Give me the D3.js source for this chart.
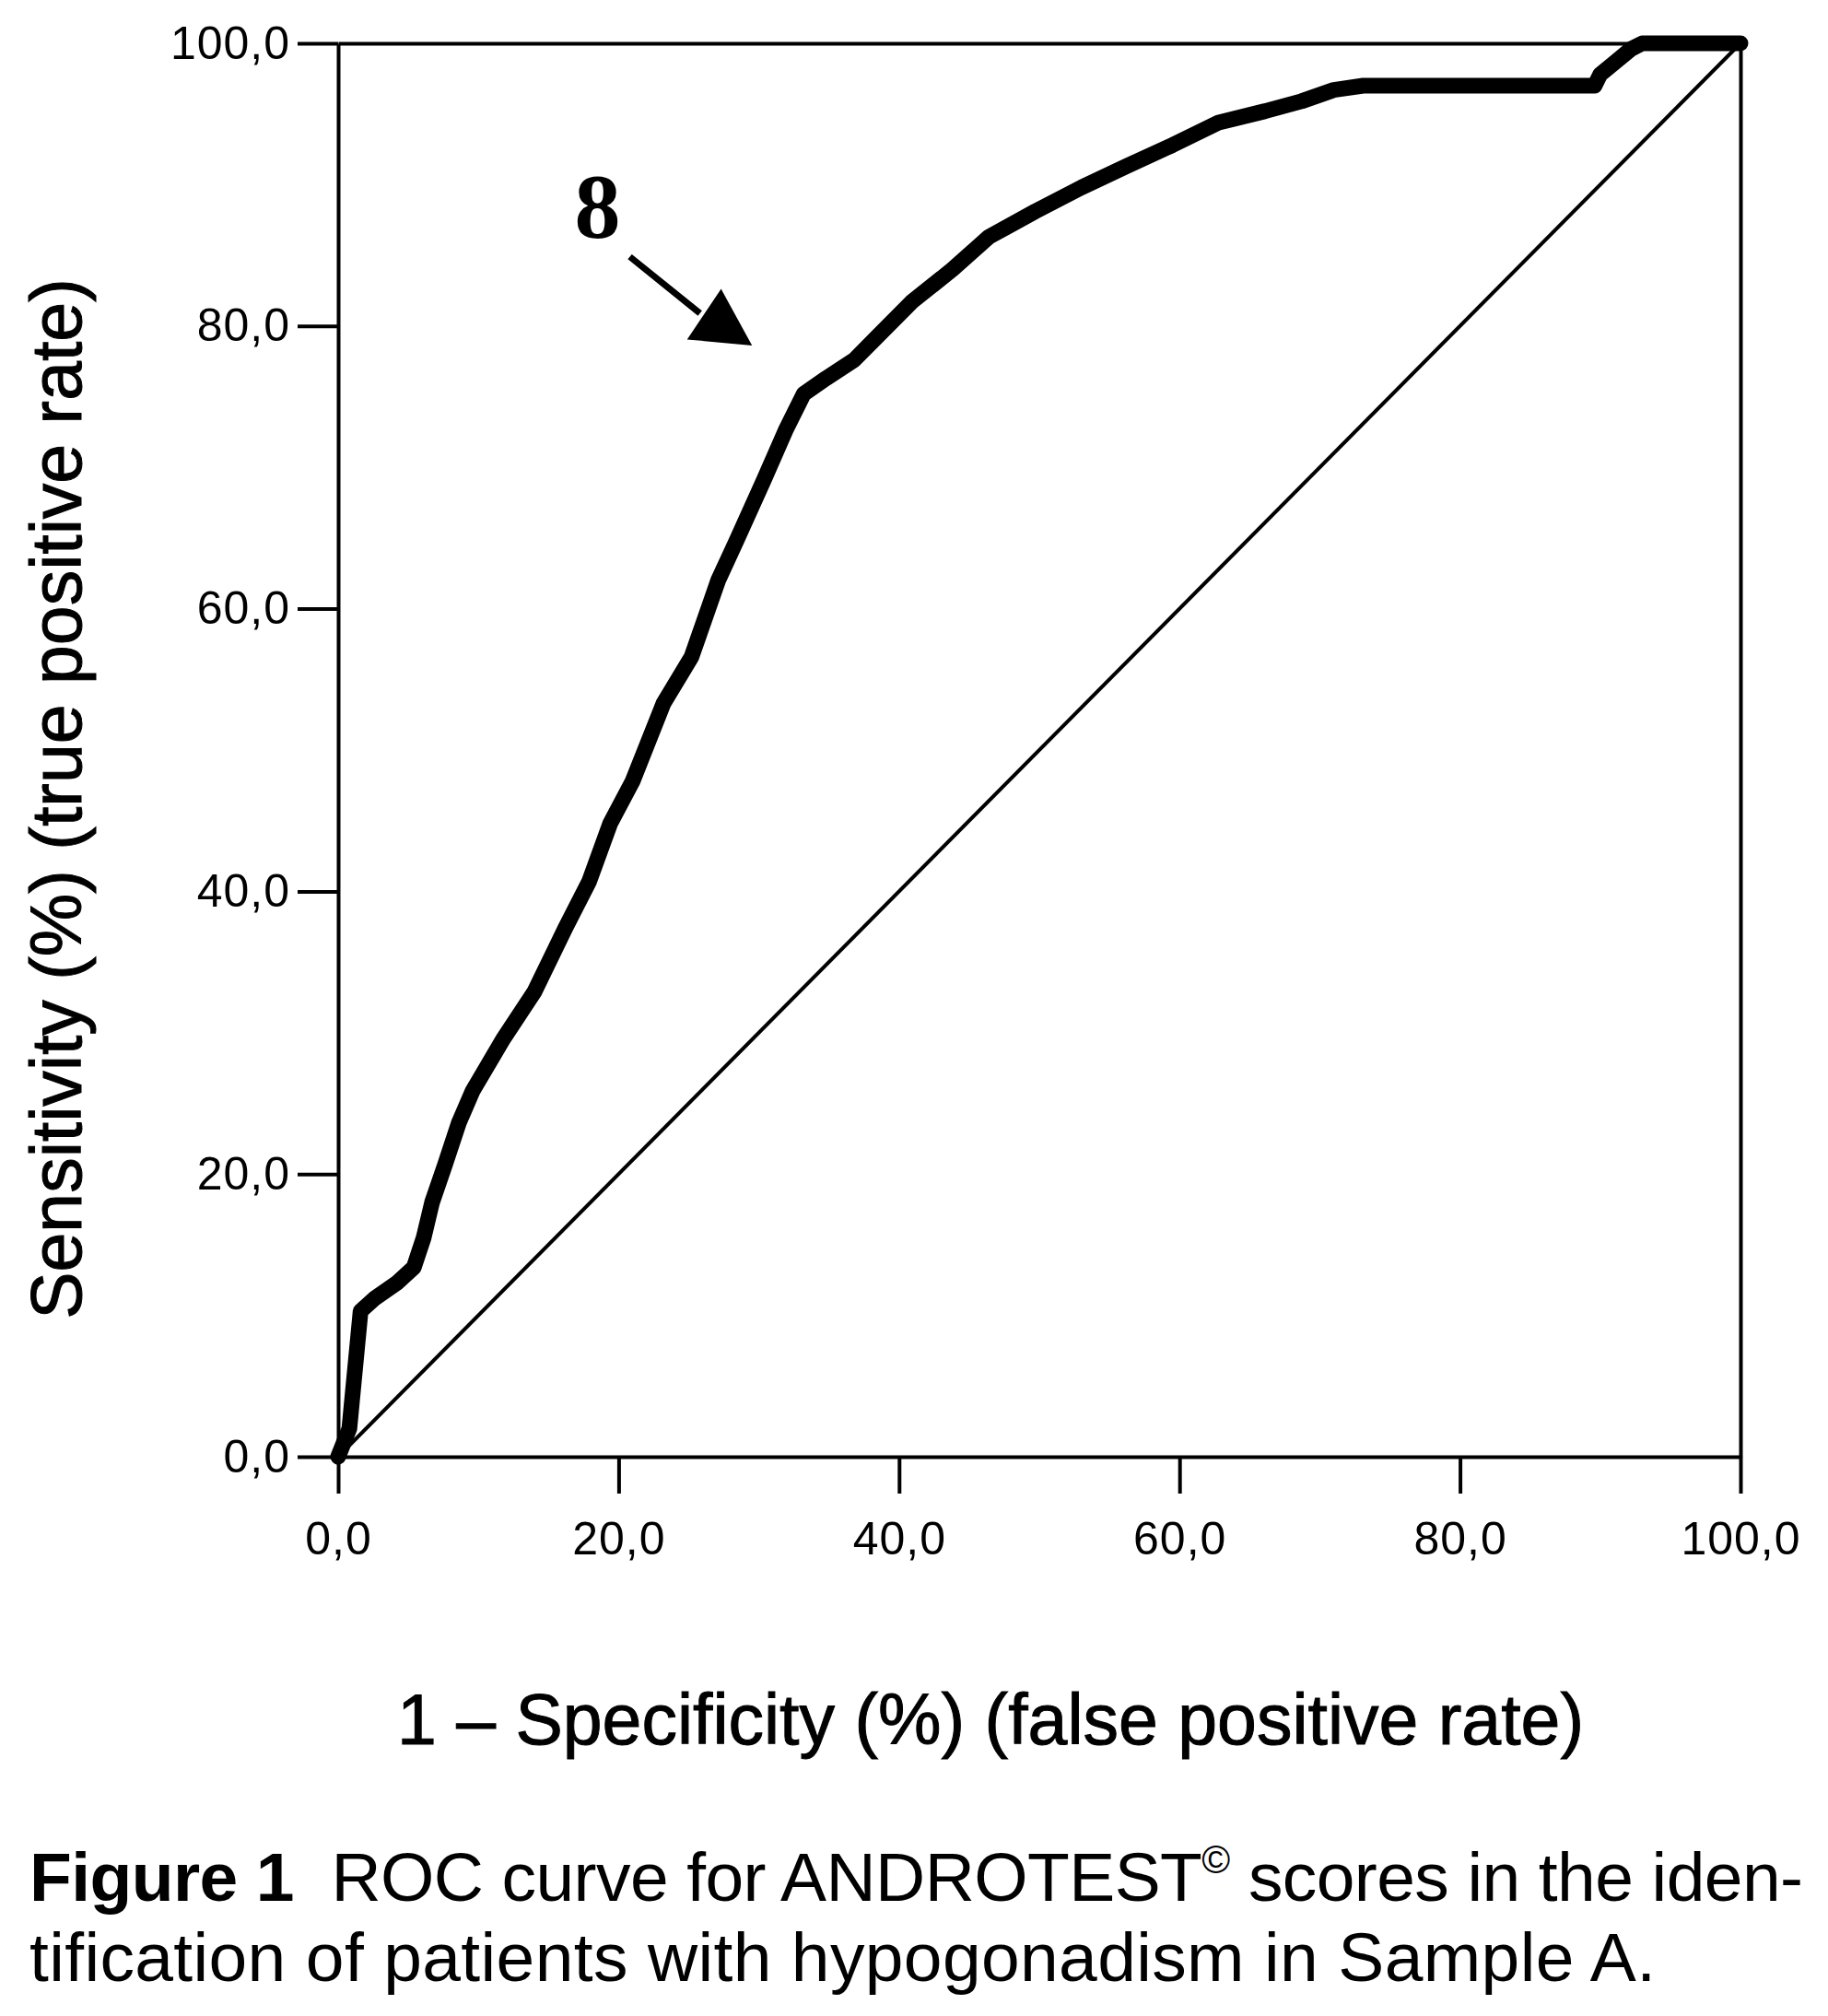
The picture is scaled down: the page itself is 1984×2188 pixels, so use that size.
<!DOCTYPE html>
<html>
<head>
<meta charset="utf-8">
<script src="https://cdn.jsdelivr.net/npm/d3@7"></script>
<style>
  html, body { margin: 0; padding: 0; background: #fff; }
  svg { display: block; }
  text { font-family: "Liberation Sans", Arial, sans-serif; fill: #000; }
</style>
</head>
<body>
<script>
// ---------------- data ----------------
const fprValues = [0, 0.8, 1.6, 2.6, 4.2, 5.4, 6.1, 6.7, 7.6, 8.6, 9.6, 11.8, 14.0, 16.2, 17.9, 19.4, 21.0,
  23.2, 25.2, 27.1, 28.4, 30.4, 31.9, 33.2, 34.8, 36.8, 38.5, 40.9, 43.8, 46.4, 49.7, 53.0, 56.2,
  59.5, 62.8, 66.1, 68.7, 71.0, 73.1, 89.6, 90.0, 91.1, 92.2, 93.0, 100];
const tprValues = [0, 2.0, 10.3, 11.2, 12.3, 13.4, 15.5, 18.0, 20.6, 23.6, 25.9, 29.6, 32.9, 37.4, 40.7, 44.8, 47.8,
  53.3, 56.6, 62.0, 64.8, 69.2, 72.6, 75.2, 76.3, 77.6, 79.3, 81.7, 84.0, 86.3, 88.1, 89.8, 91.3,
  92.8, 94.4, 95.2, 95.9, 96.7, 97.0, 97.0, 97.8, 98.7, 99.6, 100, 100];
const diagonalX = [0, 100];
const diagonalY = [0, 100];
const xTicks = [0, 20, 40, 60, 80, 100];
const yTicks = [0, 20, 40, 60, 80, 100];
const xTickLabels = ["0,0", "20,0", "40,0", "60,0", "80,0", "100,0"];
const yTickLabels = ["0,0", "20,0", "40,0", "60,0", "80,0", "100,0"];
const xTitle = "1 \u2013 Specificity (%) (false positive rate)";
const yTitle = "Sensitivity (%) (true positive rate)";
const annotationLabel = "8";
const annotationLabelPos = [18.5, 86.3];      // data coords of label baseline center
const annotationArrowLine = [[20.8, 84.9], [25.8, 80.9]];
const annotationArrowHead = [[27.3, 82.5], [25.0, 79.1], [29.4, 78.7]];
const captionBold = "Figure 1";
const captionLine1 = "  ROC curve for ANDROTEST";
const captionSup = "\u00A9";
const captionLine1End = " scores in the iden-";
const captionLine2 = "tification of patients with hypogonadism in Sample A.";

// ---------------- layout ----------------
const W = 1984, H = 2188;
const svg = d3.select("body").append("svg").attr("width", W).attr("height", H);
svg.append("rect").attr("width", W).attr("height", H).attr("fill", "#fff");

const x = d3.scaleLinear().domain([0, 100]).range([367, 1889]);
const y = d3.scaleLinear().domain([0, 100]).range([1581, 47]);

const fmtX = d => xTickLabels[xTicks.indexOf(d)];
const fmtY = d => yTickLabels[yTicks.indexOf(d)];

// frame: top & right
svg.append("g").attr("transform", `translate(0,${y(100)})`)
  .call(d3.axisTop(x).tickValues([]).tickSizeOuter(0))
  .call(g => g.select(".domain").attr("stroke", "#000").attr("stroke-width", 4));
svg.append("g").attr("transform", `translate(${x(100)},0)`)
  .call(d3.axisRight(y).tickValues([]).tickSizeOuter(0))
  .call(g => g.select(".domain").attr("stroke", "#000").attr("stroke-width", 4));

// left axis
const gy = svg.append("g").attr("transform", `translate(${x(0)},0)`)
  .call(d3.axisLeft(y).tickValues(yTicks).tickFormat(fmtY).tickSize(44).tickPadding(8).tickSizeOuter(0));
gy.select(".domain").attr("stroke", "#000").attr("stroke-width", 4);
gy.selectAll(".tick line").attr("stroke", "#000").attr("stroke-width", 4);
gy.selectAll(".tick text").attr("font-size", 50).attr("font-family", "Liberation Sans, Arial, sans-serif")
  .attr("letter-spacing", 1);

// bottom axis
const gx = svg.append("g").attr("transform", `translate(0,${y(0)})`)
  .call(d3.axisBottom(x).tickValues(xTicks).tickFormat(fmtX).tickSize(40).tickPadding(30).tickSizeOuter(0));
gx.select(".domain").attr("stroke", "#000").attr("stroke-width", 4);
gx.selectAll(".tick line").attr("stroke", "#000").attr("stroke-width", 4);
gx.selectAll(".tick text").attr("font-size", 50).attr("font-family", "Liberation Sans, Arial, sans-serif")
  .attr("letter-spacing", 1);

// diagonal reference line
const line = d3.line().x(d => x(d[0])).y(d => y(d[1]));
svg.append("path")
  .datum(diagonalX.map((v, i) => [v, diagonalY[i]]))
  .attr("d", line).attr("fill", "none").attr("stroke", "#000").attr("stroke-width", 4);

// ROC curve
svg.append("path")
  .datum(fprValues.map((v, i) => [v, tprValues[i]]))
  .attr("d", line).attr("fill", "none").attr("stroke", "#000")
  .attr("stroke-width", 17).attr("stroke-linejoin", "round").attr("stroke-linecap", "round");

// annotation "8" with arrow
svg.append("text")
  .attr("x", x(annotationLabelPos[0])).attr("y", y(annotationLabelPos[1]))
  .attr("text-anchor", "middle")
  .attr("font-size", 100).attr("font-weight", "bold")
  .style("font-family", "'Liberation Serif', 'DejaVu Serif', serif")
  .text(annotationLabel);
svg.append("path").datum(annotationArrowLine).attr("d", line)
  .attr("fill", "none").attr("stroke", "#000").attr("stroke-width", 7);
svg.append("path").datum(annotationArrowHead).attr("d", d => line(d) + "Z")
  .attr("fill", "#000").attr("stroke", "#000").attr("stroke-width", 2);

// axis titles
svg.append("text")
  .attr("x", (x(0) + x(100)) / 2 - 53).attr("y", 1893)
  .attr("text-anchor", "middle").attr("font-size", 77)
  .attr("stroke", "#000").attr("stroke-width", 1)
  .text(xTitle);
svg.append("text")
  .attr("transform", `translate(88,${(y(0) + y(100)) / 2 + 53}) rotate(-90)`)
  .attr("text-anchor", "middle").attr("font-size", 77)
  .attr("stroke", "#000").attr("stroke-width", 1)
  .text(yTitle);

// caption
const cap1 = svg.append("text")
  .attr("x", 32).attr("y", 2063).attr("font-size", 75)
  .attr("textLength", 1925).attr("lengthAdjust", "spacing")
  .style("white-space", "pre");
cap1.append("tspan").attr("font-weight", "bold").text(captionBold);
cap1.append("tspan").text(captionLine1);
cap1.append("tspan").attr("font-size", 42).attr("dy", -30).text(captionSup);
cap1.append("tspan").attr("dy", 30).text(captionLine1End);

svg.append("text")
  .attr("x", 32).attr("y", 2150).attr("font-size", 75)
  .attr("textLength", 1765).attr("lengthAdjust", "spacing")
  .text(captionLine2);
</script>
</body>
</html>
